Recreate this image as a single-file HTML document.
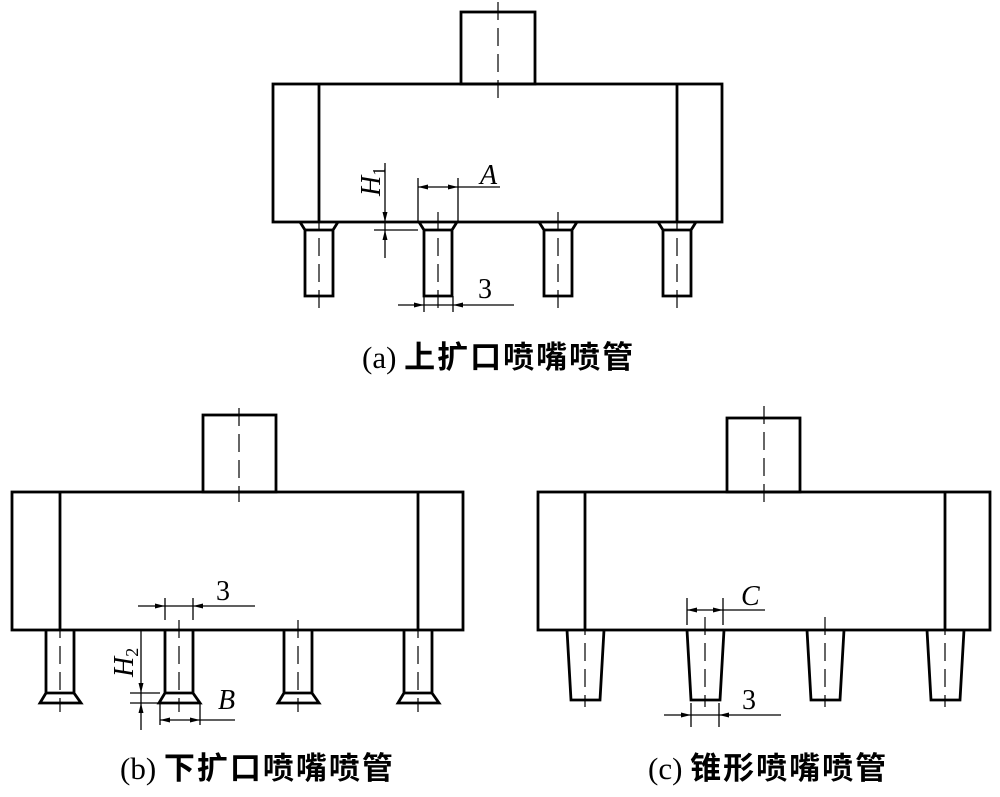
<!DOCTYPE html>
<html><head><meta charset="utf-8"><style>
html,body{margin:0;padding:0;background:#fff;}
svg{display:block}
.m{stroke:#000;stroke-width:2.8;fill:none;stroke-linejoin:miter}
.t{stroke:#000;stroke-width:1.3;fill:none}
.c{stroke:#000;stroke-width:1.2;fill:none;stroke-dasharray:18,8}
.lbl{font-family:"Liberation Serif",serif;font-style:italic;font-size:28px}
.num{font-family:"Liberation Serif",serif;font-size:28px}
.cap{font-family:"Liberation Serif","Noto Sans CJK SC",sans-serif;font-size:31px;font-weight:bold;letter-spacing:2px}
.cap .p{font-weight:normal;letter-spacing:0}
</style></head><body>
<svg width="1000" height="797" viewBox="0 0 1000 797" xmlns="http://www.w3.org/2000/svg">
<!-- (a) -->
<rect class="m" x="461" y="12" width="74" height="72"/>
<rect class="m" x="273" y="84" width="449" height="138"/>
<line class="m" x1="319" y1="84" x2="319" y2="222"/>
<line class="m" x1="677" y1="84" x2="677" y2="222"/>
<line class="c" x1="498" y1="2" x2="498" y2="100"/>
<g id="na">
<polyline class="m" points="300,222 305,230 305,296 333,296 333,230 338,222"/>
<line class="m" x1="305" y1="230" x2="333" y2="230"/>
<line class="c" x1="319" y1="212" x2="319" y2="310"/>
</g>
<use href="#na" x="119"/>
<use href="#na" x="239"/>
<use href="#na" x="358"/>
<!-- A -->
<line class="t" x1="418" y1="178" x2="418" y2="222"/>
<line class="t" x1="458" y1="178" x2="458" y2="222"/>
<line class="t" x1="418" y1="187" x2="500" y2="187"/>
<polygon points="418,187 428,184.5 428,189.5"/>
<polygon points="458,187 448,184.5 448,189.5"/>
<text class="lbl" x="480" y="184">A</text>
<!-- H1 -->
<line class="t" x1="385" y1="163" x2="385" y2="258"/>
<line class="t" x1="374" y1="230" x2="418" y2="230"/>
<polygon points="385,222 382.5,212 387.5,212"/>
<polygon points="385,230 382.5,240 387.5,240"/>
<text class="lbl" transform="translate(380,196) rotate(-90)">H<tspan font-size="18" font-style="normal" dy="5">1</tspan></text>
<!-- 3 -->
<line class="t" x1="398" y1="305" x2="514" y2="305"/>
<line class="t" x1="424" y1="296" x2="424" y2="312"/>
<line class="t" x1="453" y1="296" x2="453" y2="312"/>
<polygon points="424,305 414,302.5 414,307.5"/>
<polygon points="453,305 463,302.5 463,307.5"/>
<text class="num" x="478" y="298">3</text>
<text class="cap" x="362" y="368"><tspan class="p">(a) </tspan>上扩口喷嘴喷管</text>

<!-- (b) -->
<rect class="m" x="203" y="415" width="73" height="77"/>
<rect class="m" x="12" y="492" width="451" height="138"/>
<line class="m" x1="60" y1="492" x2="60" y2="630"/>
<line class="m" x1="418" y1="492" x2="418" y2="630"/>
<line class="c" x1="239" y1="408" x2="239" y2="502"/>
<g id="nb">
<polyline class="m" points="46,630 46,693 40,703 81,703 74,693 74,630"/>
<line class="m" x1="46" y1="693" x2="74" y2="693"/>
<line class="c" x1="60" y1="620" x2="60" y2="712"/>
</g>
<use href="#nb" x="119"/>
<use href="#nb" x="238"/>
<use href="#nb" x="358"/>
<!-- 3 top -->
<line class="t" x1="138" y1="606" x2="255" y2="606"/>
<line class="t" x1="165" y1="598" x2="165" y2="620"/>
<line class="t" x1="193" y1="598" x2="193" y2="620"/>
<polygon points="165,606 155,603.5 155,608.5"/>
<polygon points="193,606 203,603.5 203,608.5"/>
<text class="num" x="216" y="600">3</text>
<!-- H2 -->
<line class="t" x1="141" y1="630" x2="141" y2="730"/>
<line class="t" x1="130" y1="693" x2="160" y2="693"/>
<line class="t" x1="130" y1="703" x2="160" y2="703"/>
<polygon points="141,693 138.5,683 143.5,683"/>
<polygon points="141,703 138.5,713 143.5,713"/>
<text class="lbl" transform="translate(133,677) rotate(-90)">H<tspan font-size="18" font-style="normal" dy="5">2</tspan></text>
<!-- B -->
<line class="t" x1="160" y1="703" x2="160" y2="725"/>
<line class="t" x1="200" y1="703" x2="200" y2="725"/>
<line class="t" x1="160" y1="720" x2="235" y2="720"/>
<polygon points="160,720 170,717.5 170,722.5"/>
<polygon points="200,720 190,717.5 190,722.5"/>
<text class="lbl" x="218" y="709">B</text>
<text class="cap" x="120" y="779"><tspan class="p">(b) </tspan>下扩口喷嘴喷管</text>

<!-- (c) -->
<rect class="m" x="727" y="418" width="73" height="74"/>
<rect class="m" x="538" y="492" width="452" height="138"/>
<line class="m" x1="585" y1="492" x2="585" y2="630"/>
<line class="m" x1="945" y1="492" x2="945" y2="630"/>
<line class="c" x1="764" y1="406" x2="764" y2="502"/>
<g id="nc">
<polyline class="m" points="567,630 571,700 600,700 604,630"/>
<line class="c" x1="585" y1="617" x2="585" y2="707"/>
</g>
<use href="#nc" x="120"/>
<use href="#nc" x="240"/>
<use href="#nc" x="360"/>
<!-- C -->
<line class="t" x1="687" y1="598" x2="687" y2="625"/>
<line class="t" x1="723" y1="598" x2="723" y2="625"/>
<line class="t" x1="687" y1="610" x2="765" y2="610"/>
<polygon points="687,610 697,607.5 697,612.5"/>
<polygon points="723,610 713,607.5 713,612.5"/>
<text class="lbl" x="741" y="605">C</text>
<!-- 3 bottom -->
<line class="t" x1="664" y1="715" x2="781" y2="715"/>
<line class="t" x1="691" y1="703" x2="691" y2="727"/>
<line class="t" x1="719" y1="703" x2="719" y2="727"/>
<polygon points="691,715 681,712.5 681,717.5"/>
<polygon points="719,715 729,712.5 729,717.5"/>
<text class="num" x="742" y="709">3</text>
<text class="cap" x="648" y="779"><tspan class="p">(c) </tspan>锥形喷嘴喷管</text>
</svg>
</body></html>
